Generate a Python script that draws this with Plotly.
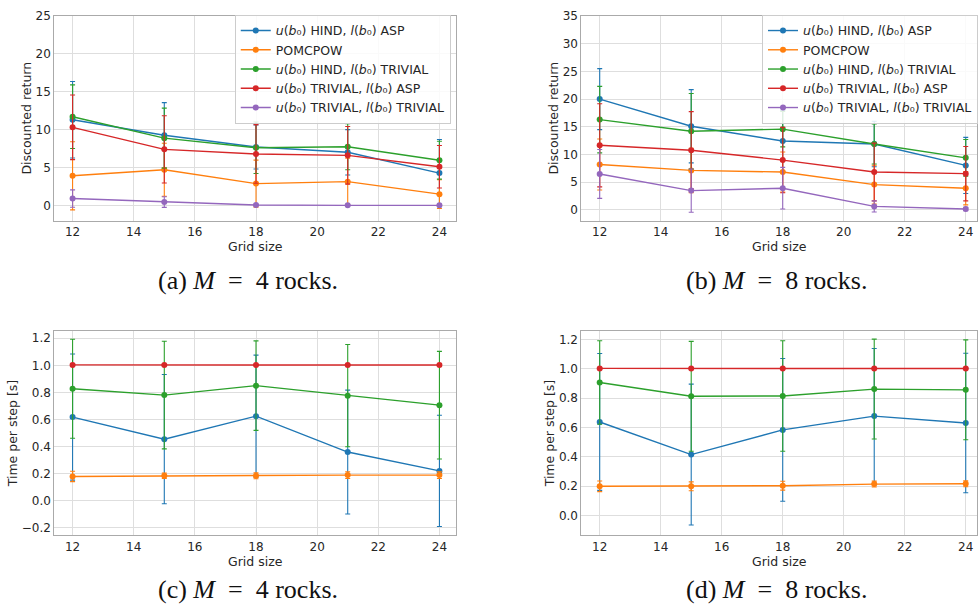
import plotly.graph_objects as go

grid_sizes = [12, 15, 18, 21, 24]

labels = [
    "<i>u</i>(<i>b</i>₀) HIND, <i>l</i>(<i>b</i>₀) ASP",
    "POMCPOW",
    "<i>u</i>(<i>b</i>₀) HIND, <i>l</i>(<i>b</i>₀) TRIVIAL",
    "<i>u</i>(<i>b</i>₀) TRIVIAL, <i>l</i>(<i>b</i>₀) ASP",
    "<i>u</i>(<i>b</i>₀) TRIVIAL, <i>l</i>(<i>b</i>₀) TRIVIAL",
]
colors = ["#1f77b4", "#ff7f0e", "#2ca02c", "#d62728", "#9467bd"]

# (a) discounted return, M = 4
ret4_hind_asp = [11.3, 9.26, 7.7, 7.0, 4.26]
ret4_hind_asp_sd = [5.05, 4.3, 2.9, 3.0, 4.44]
ret4_pomcpow = [3.9, 4.7, 2.87, 3.13, 1.48]
ret4_pomcpow_sd = [4.5, 3.5, 3.1, 3.1, 1.9]
ret4_hind_triv = [11.7, 8.87, 7.6, 7.74, 5.96]
ret4_hind_triv_sd = [4.2, 3.96, 3.4, 3.04, 2.5]
ret4_triv_asp = [10.3, 7.39, 6.78, 6.6, 5.09]
ret4_triv_asp_sd = [4.27, 4.43, 3.87, 3.8, 2.8]
ret4_triv_triv = [0.9, 0.43, 0.04, 0.0, 0.0]
ret4_triv_triv_sd = [1.15, 0.7, 0.1, 0.05, 0.05]

# (b) discounted return, M = 8
ret8_hind_asp = [20.0, 15.1, 12.44, 11.9, 8.04]
ret8_hind_asp_sd = [5.5, 6.6, 5.5, 4.1, 5.06]
ret8_pomcpow = [8.2, 7.14, 6.85, 4.58, 3.93]
ret8_pomcpow_sd = [4.6, 4.0, 3.6, 3.5, 3.0]
ret8_hind_triv = [16.3, 14.2, 14.58, 11.9, 9.4]
ret8_hind_triv_sd = [6.0, 6.8, 3.2, 3.6, 3.3]
ret8_triv_asp = [11.67, 10.77, 9.0, 6.85, 6.55]
ret8_triv_asp_sd = [7.5, 6.96, 5.9, 5.2, 4.9]
ret8_triv_triv = [6.5, 3.5, 3.93, 0.65, 0.18]
ret8_triv_triv_sd = [4.4, 3.9, 3.75, 1.0, 0.3]

# (c) time per step, M = 4
time4_hind_asp = [0.618, 0.455, 0.625, 0.36, 0.221]
time4_hind_asp_sd = [0.465, 0.477, 0.45, 0.457, 0.41]
time4_pomcpow = [0.18, 0.185, 0.185, 0.19, 0.19]
time4_pomcpow_sd = [0.038, 0.02, 0.022, 0.025, 0.025]
time4_hind_triv = [0.827, 0.78, 0.85, 0.776, 0.706]
time4_hind_triv_sd = [0.365, 0.397, 0.33, 0.377, 0.397]
time4_triv_asp = [1.003, 1.002, 1.002, 1.002, 1.002]
time4_triv_asp_sd = [0.006, 0.003, 0.003, 0.003, 0.003]

# (d) time per step, M = 8
time8_hind_asp = [0.638, 0.416, 0.584, 0.678, 0.631]
time8_hind_asp_sd = [0.466, 0.48, 0.486, 0.46, 0.475]
time8_pomcpow = [0.2, 0.2, 0.204, 0.215, 0.217]
time8_pomcpow_sd = [0.036, 0.03, 0.03, 0.02, 0.02]
time8_hind_triv = [0.907, 0.813, 0.815, 0.862, 0.857]
time8_hind_triv_sd = [0.284, 0.374, 0.376, 0.34, 0.34]
time8_triv_asp = [1.003, 1.002, 1.002, 1.002, 1.002]
time8_triv_asp_sd = [0.006, 0.003, 0.003, 0.003, 0.003]

panels = [
    ("x", "y", "legend", [
        (ret4_hind_asp, ret4_hind_asp_sd), (ret4_pomcpow, ret4_pomcpow_sd),
        (ret4_hind_triv, ret4_hind_triv_sd), (ret4_triv_asp, ret4_triv_asp_sd),
        (ret4_triv_triv, ret4_triv_triv_sd)]),
    ("x2", "y2", "legend2", [
        (ret8_hind_asp, ret8_hind_asp_sd), (ret8_pomcpow, ret8_pomcpow_sd),
        (ret8_hind_triv, ret8_hind_triv_sd), (ret8_triv_asp, ret8_triv_asp_sd),
        (ret8_triv_triv, ret8_triv_triv_sd)]),
    ("x3", "y3", None, [
        (time4_hind_asp, time4_hind_asp_sd), (time4_pomcpow, time4_pomcpow_sd),
        (time4_hind_triv, time4_hind_triv_sd), (time4_triv_asp, time4_triv_asp_sd)]),
    ("x4", "y4", None, [
        (time8_hind_asp, time8_hind_asp_sd), (time8_pomcpow, time8_pomcpow_sd),
        (time8_hind_triv, time8_hind_triv_sd), (time8_triv_asp, time8_triv_asp_sd)]),
]

fig = go.Figure()
for xa, ya, leg, series in panels:
    for i, (vals, sds) in enumerate(series):
        kw = dict(
            x=grid_sizes, y=vals, xaxis=xa, yaxis=ya,
            mode="lines+markers", name=labels[i],
            line=dict(color=colors[i], width=1.4),
            marker=dict(color=colors[i], size=6),
            error_y=dict(type="data", array=sds, color=colors[i], thickness=1.1, width=2.5),
        )
        if leg is None:
            kw["showlegend"] = False
        else:
            kw["legend"] = leg
        fig.add_trace(go.Scatter(**kw))

W, H = 978, 611
tickfont = dict(family="DejaVu Sans", size=12, color="#262626")
titlefont = dict(family="DejaVu Sans", size=12.5, color="#262626")

def xax(x0, x1, r, anchor):
    return dict(domain=[x0 / W, x1 / W], range=r, dtick=2, tick0=12, anchor=anchor,
                showgrid=True, gridcolor="#dedede", gridwidth=1,
                showline=True, linecolor="#aaaaaa", linewidth=1, mirror=True,
                ticks="", tickfont=tickfont, zeroline=False,
                title=dict(text="Grid size", font=titlefont, standoff=0))

def yax(y0, y1, r, dtick, fmt, anchor, title):
    return dict(domain=[1 - y1 / H, 1 - y0 / H], range=r, dtick=dtick, anchor=anchor,
                showgrid=True, gridcolor="#dedede", gridwidth=1,
                showline=True, linecolor="#aaaaaa", linewidth=1, mirror=True,
                ticks="", tickfont=tickfont, zeroline=False, tickformat=fmt,
                title=dict(text=title, font=titlefont, standoff=1))

right_end = 24 + (978 - 966.7) / 30.6

legend_style = dict(xanchor="left", yanchor="top",
                    bgcolor="rgba(255,255,255,0.85)", bordercolor="#cccccc", borderwidth=1,
                    font=dict(family="DejaVu Sans", size=12.5, color="#262626"),
                    tracegroupgap=0, itemwidth=30)

fig.update_layout(
    width=W, height=H,
    margin=dict(l=0, r=0, t=0, b=0),
    paper_bgcolor="white", plot_bgcolor="white",
    xaxis=xax(54.3, 456.7, [11.4, 24.55], "y"),
    yaxis=yax(9, 216, [-2, 25], 5, "d", "x", "Discounted return"),
    xaxis2=xax(582, 978, [11.4, right_end], "y2"),
    yaxis2=yax(9, 216, [-1.9, 35], 5, "d", "x2", "Discounted return"),
    xaxis3=xax(54.3, 456.7, [11.4, 24.55], "y3"),
    yaxis3=yax(327.7, 534.3, [-0.2535, 1.2535], 0.2, ".1f", "x3", "Time per step [s]"),
    xaxis4=xax(582, 978, [11.4, right_end], "y4"),
    yaxis4=yax(327.7, 534.3, [-0.133, 1.258], 0.2, ".1f", "x4", "Time per step [s]"),
    legend=dict(x=235 / W, y=1 - 8 / H, **legend_style),
    legend2=dict(x=763 / W, y=1 - 8 / H, **legend_style),
)

nb = "\u00a0"
captions = [
    (f"(a){nb}<i>M</i>{nb}{nb}={nb}{nb}4 rocks.", 248, 277),
    (f"(b){nb}<i>M</i>{nb}{nb}={nb}{nb}8 rocks.", 777, 277),
    (f"(c){nb}<i>M</i>{nb}{nb}={nb}{nb}4 rocks.", 248, 589),
    (f"(d){nb}<i>M</i>{nb}{nb}={nb}{nb}8 rocks.", 777, 589),
]
for text, cx, cy in captions:
    fig.add_annotation(text=text, x=cx / W, y=1 - cy / H, xref="paper", yref="paper",
                       xanchor="center", yanchor="middle", showarrow=False,
                       font=dict(family="Liberation Serif", size=26, color="#111111"))

fig.write_html("out.html", config={"displayModeBar": False},
               post_script="document.body.style.margin='0px';")
